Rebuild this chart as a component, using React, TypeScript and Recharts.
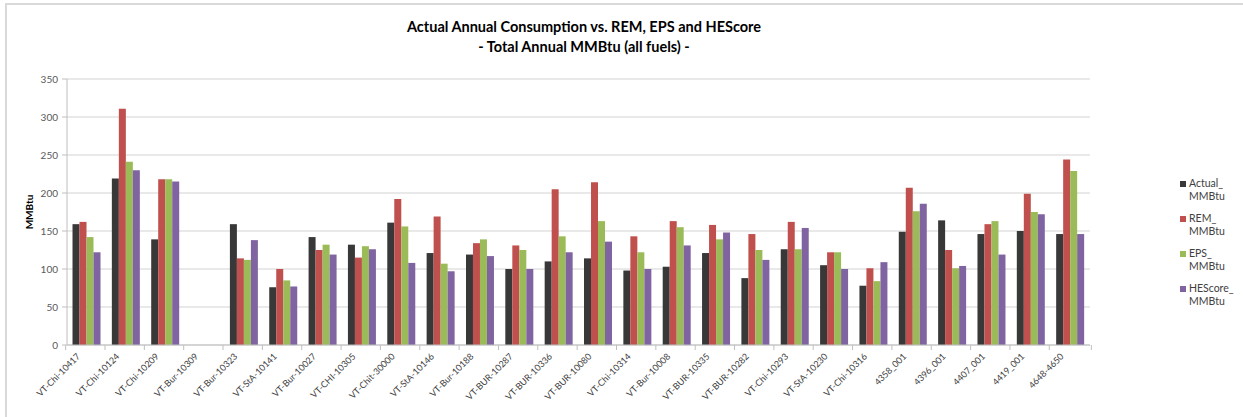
import React from 'react';
import { BarChart, Bar, XAxis, YAxis, CartesianGrid, Legend } from 'recharts';

const W = 1243;
const H = 417;
const PLOT_LEFT = 67;
const PLOT_RIGHT = 1160;
const PLOT_TOP = 79;
const PLOT_BOTTOM = 345;

const sites = [
  'VT-Chi-10417', 'VT-Chi-10124', 'VT-Chi-10209', 'VT-Bur-10309', 'VT-Bur-10323', 'VT-StA-10141',
  'VT-Bur-10027', 'VT-CHI-10305', 'VT-Chit-30000', 'VT-StA-10146', 'VT-Bur-10188', 'VT-BUR-10287',
  'VT-BUR-10336', 'VT-BUR-10080', 'VT-Chi-10314', 'VT-Bur-10008', 'VT-BUR-10335', 'VT-BUR-10282',
  'VT-Chi-10293', 'VT-StA-10230', 'VT-Chi-10316', '4358_001', '4396_001', '4407_001', '4419_001', '4648-4650',
];

const actual = [159, 219, 139, 0, 159, 76, 142, 132, 161, 121, 119, 100, 110, 114, 98, 103, 121, 88, 126, 105, 78, 149, 164, 146, 150, 146];
const rem = [162, 311, 218, 0, 114, 100, 125, 115, 192, 169, 134, 131, 205, 214, 143, 163, 158, 146, 162, 122, 101, 207, 125, 159, 199, 244];
const eps = [142, 241, 218, 0, 112, 85, 132, 130, 156, 107, 139, 125, 143, 163, 122, 155, 139, 125, 126, 122, 84, 176, 101, 163, 175, 229];
const hescore = [122, 230, 215, 0, 138, 77, 119, 126, 108, 97, 117, 100, 122, 136, 100, 131, 148, 112, 154, 100, 109, 186, 104, 119, 172, 146];

const yTicks = [0, 50, 100, 150, 200, 250, 300, 350];

const series = [
  { key: 'actual', name: 'Actual_MMBtu', lines: ['Actual_', 'MMBtu'], color: '#383838' },
  { key: 'rem', name: 'REM_MMBtu', lines: ['REM_', 'MMBtu'], color: '#c0504d' },
  { key: 'eps', name: 'EPS_MMBtu', lines: ['EPS_', 'MMBtu'], color: '#9bbb59' },
  { key: 'hescore', name: 'HEScore_MMBtu', lines: ['HEScore_', 'MMBtu'], color: '#8064a2' },
];

const data = sites.map((site, i) => ({
  site,
  actual: actual[i],
  rem: rem[i],
  eps: eps[i],
  hescore: hescore[i],
}));

const FONT = 'Lato, "Open Sans", sans-serif';
const band = (PLOT_RIGHT - PLOT_LEFT) / sites.length;

const SiteTick = (props: any) => {
  const { x, y, payload, index } = props;
  const tx = x - 6;
  const ty = y + 12;
  return (
    <g>
      <line x1={x - band / 2} y1={y} x2={x - band / 2} y2={y + 5} stroke="#bfbfbf" />
      {index === sites.length - 1 && (
        <line x1={x + band / 2} y1={y} x2={x + band / 2} y2={y + 5} stroke="#bfbfbf" />
      )}
      <text
        x={tx}
        y={ty}
        textAnchor="end"
        transform={`rotate(-45, ${tx}, ${ty})`}
        fontSize={9}
        fill="#404040"
        fontFamily={FONT}
      >
        {payload.value}
      </text>
    </g>
  );
};

const LegendBox = () => (
  <div style={{ fontFamily: FONT, fontSize: 10.5, color: '#404040', lineHeight: '13px' }}>
    {series.map(s => (
      <div key={s.key} style={{ display: 'flex', marginBottom: 9 }}>
        <div style={{ width: 6, height: 6, background: s.color, marginTop: 4, marginRight: 3 }} />
        <div>
          {s.lines.map(l => (
            <div key={l}>{l}</div>
          ))}
        </div>
      </div>
    ))}
  </div>
);

export default function App() {
  return (
    <div style={{ position: 'absolute', left: 0, top: 0, width: W, height: H, background: '#fff' }}>
      <div
        style={{
          position: 'absolute', left: 5, top: 3, width: W - 5, height: H - 3,
          borderTop: '2px solid #d9d9d9', borderLeft: '2px solid #d9d9d9', boxSizing: 'border-box',
        }}
      />
      <div
        style={{
          position: 'absolute', left: 384, width: 400, top: 17, textAlign: 'center',
          fontFamily: FONT, fontWeight: 'bold', fontSize: 14.5, lineHeight: '20px', color: '#000',
        }}
      >
        <div>Actual Annual Consumption vs. REM, EPS and HEScore</div>
        <div>- Total Annual MMBtu (all fuels) -</div>
      </div>
      <div style={{ position: 'absolute', left: 0, top: 0 }}>
        <BarChart
          width={W}
          height={H}
          data={data}
          margin={{ top: PLOT_TOP, right: W - PLOT_RIGHT, bottom: 0, left: 0 }}
          barCategoryGap="14%"
          barGap={0}
        >
          <CartesianGrid vertical={false} stroke="#d4d4d4" strokeWidth={1.2} />
          <XAxis
            dataKey="site"
            interval={0}
            height={H - PLOT_BOTTOM}
            tickSize={0}
            tickMargin={0}
            tickLine={false}
            stroke="#bfbfbf"
            tick={<SiteTick />}
          />
          <YAxis
            width={PLOT_LEFT}
            domain={[0, 350]}
            ticks={yTicks}
            interval={0}
            stroke="#bfbfbf"
            tickSize={5}
            tickMargin={4}
            tick={{ fontSize: 10, fill: '#595959', fontFamily: FONT }}
            label={{
              value: 'MMBtu', angle: -90, position: 'insideLeft', offset: 29,
              style: { fontSize: 10, fontWeight: 'bold', fill: '#000', fontFamily: FONT, textAnchor: 'middle' },
            }}
          />
          <Legend
            layout="vertical"
            verticalAlign="top"
            align="right"
            content={<LegendBox />}
            wrapperStyle={{ position: 'absolute', left: 1180, top: 177, width: 70 }}
          />
          {series.map(s => (
            <Bar key={s.key} dataKey={s.key} name={s.name} fill={s.color} isAnimationActive={false} />
          ))}
        </BarChart>
      </div>
    </div>
  );
}
